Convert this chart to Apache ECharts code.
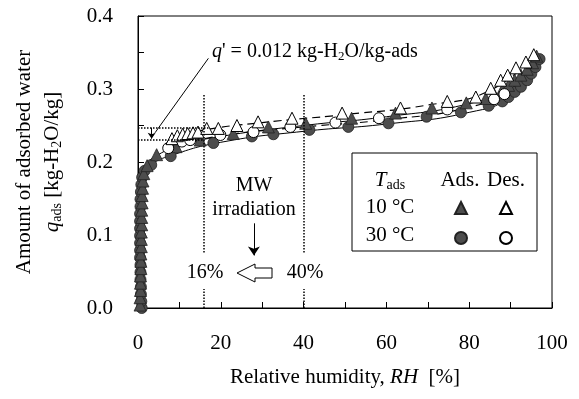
<!DOCTYPE html>
<html>
<head>
<meta charset="utf-8">
<script src="https://cdn.jsdelivr.net/npm/echarts@6/dist/echarts.min.js"></script>
<style>
html,body{margin:0;padding:0;background:#fff;}
#chart{width:579px;height:399px;}
</style>
</head>
<body>
<div id="chart"></div>
<script>
// measured points [RH %, q kg/kg]
var ads10 = [
    [0.5,0.004],[0.5,0.014],[0.6,0.024],[0.6,0.034],[0.6,0.044],[0.7,0.054],[0.7,0.064],
    [0.7,0.074],[0.8,0.084],[0.8,0.094],[0.8,0.104],[0.9,0.114],[0.9,0.124],[0.9,0.134],
    [1.0,0.144],[1.0,0.154],[1.1,0.164],[1.2,0.174],[1.4,0.184],[2.2,0.195],[4.5,0.210],
    [9.2,0.221],[15,0.230],[23,0.239],[31.5,0.248],[40.5,0.253],[51.6,0.260],[62.2,0.267],
    [71,0.274],[79.3,0.281],[84,0.287],[86,0.293],[88,0.299],[89.5,0.305],[91,0.312],
    [92.5,0.319],[94,0.327],[95.3,0.336],[96.3,0.345]
];
var ads30 = [
    [0.9,0.000],[0.8,0.009],[0.7,0.019],[0.7,0.029],[0.6,0.039],[0.6,0.049],[0.6,0.059],
    [0.5,0.069],[0.5,0.079],[0.5,0.089],[0.5,0.099],[0.5,0.109],[0.5,0.119],[0.5,0.129],
    [0.6,0.139],[0.6,0.149],[0.7,0.159],[0.8,0.169],[1.0,0.179],[1.6,0.188],[3.2,0.196],
    [7.9,0.208],[18.2,0.226],[27.5,0.235],[32.7,0.238],[41.4,0.244],[50.8,0.248],[60.5,0.253],
    [69.7,0.262],[78,0.268],[84.7,0.277],[88,0.283],[89.5,0.289],[91,0.296],[92.5,0.303],
    [94,0.312],[95,0.321],[96,0.330],[97,0.341]
];
var des10 = [
    [8.2,0.232],[9.5,0.236],[10.8,0.238],[12,0.239],[13.3,0.240],[14.5,0.241],[16.6,0.246],
    [19.4,0.246],[23.9,0.250],[29,0.255],[37.2,0.260],[49.3,0.267],[63.4,0.274],[74.7,0.283],
    [81.6,0.289],[85.2,0.301],[87.6,0.312],[89.3,0.319],[91.3,0.329],[93.7,0.337],[95.6,0.347]
];
var des30 = [
    [7.3,0.219],[10.6,0.228],[12.6,0.230],[19.9,0.237],[27.9,0.241],[36.8,0.248],[47.7,0.254],
    [58.2,0.260],[74.7,0.272],[86,0.286],[88.5,0.293]
];
// fitted curves
var fitAds10 = [[0.8,0.17],[2,0.195],[4,0.207],[10,0.222],[20,0.235],[40,0.25],[60,0.262],[80,0.28],[90,0.303],[96,0.345]];
var fitAds30 = [[0.6,0.16],[1.5,0.186],[3,0.196],[8,0.209],[20,0.227],[40,0.242],[60,0.252],[80,0.268],[90,0.29],[97,0.34]];
var fitDes10 = [[8,0.232],[15,0.243],[30,0.254],[50,0.265],[70,0.278],[85,0.298],[96,0.348]];
var fitDes30 = [[7,0.22],[20,0.236],[40,0.248],[60,0.258],[80,0.275],[90,0.3],[97,0.34]];

var FONT = '"Liberation Serif", "Times New Roman", serif';
var dark = '#4d4d4d';

function dotted(a, b) {
    return [{coord: a}, {coord: b}];
}

var chart = echarts.init(document.getElementById('chart'));
chart.setOption({
    animation: false,
    textStyle: {fontFamily: FONT, color: '#000'},
    grid: {left: 138, top: 16, right: 27, bottom: 91, show: true, borderColor: '#000', borderWidth: 1},
    xAxis: {
        type: 'value', min: 0, max: 100, interval: 20,
        axisLine: {lineStyle: {color: '#000', width: 1}},
        axisTick: {inside: true, length: 6, lineStyle: {color: '#000'}},
        minorTick: {show: true, splitNumber: 2, length: 6, lineStyle: {color: '#000'}},
        splitLine: {show: false},
        axisLabel: {fontSize: 21, margin: 25, color: '#000', fontFamily: FONT},
        name: 'Relative humidity, {i|RH}  [%]',
        nameLocation: 'middle', nameGap: 59,
        nameTextStyle: {fontSize: 21, color: '#000', fontFamily: FONT,
            rich: {i: {fontSize: 21, fontStyle: 'italic', fontFamily: FONT}}}
    },
    yAxis: {
        type: 'value', min: 0, max: 0.4, interval: 0.1,
        axisLine: {lineStyle: {color: '#000', width: 1}},
        axisTick: {inside: true, length: 6, lineStyle: {color: '#000'}},
        minorTick: {show: true, splitNumber: 2, length: 6, lineStyle: {color: '#000'}},
        splitLine: {show: false},
        axisLabel: {fontSize: 21, margin: 25, color: '#000', fontFamily: FONT,
            formatter: function (v) { return v.toFixed(1); }},
        name: 'Amount of adsorbed water\n{i|q}{s|ads} [kg-H{s|2}O/kg]',
        nameLocation: 'middle', nameGap: 72, nameRotate: 90,
        nameTextStyle: {fontSize: 21, color: '#000', fontFamily: FONT, lineHeight: 28,
            rich: {
                i: {fontSize: 21, fontStyle: 'italic', fontFamily: FONT},
                s: {fontSize: 14, fontFamily: FONT, padding: [10, 0, 0, 0]}
            }}
    },
    legend: [
        {data: ['10°C Ads.', '30°C Ads.'], orient: 'vertical', left: 449, top: 196,
         itemWidth: 12, itemHeight: 12, itemGap: 16, selectedMode: false,
         formatter: function () { return ''; }},
        {data: ['10°C Des.', '30°C Des.'], orient: 'vertical', left: 494, top: 196,
         itemWidth: 12, itemHeight: 12, itemGap: 16, selectedMode: false,
         formatter: function () { return ''; }}
    ],
    graphic: [
        {type: 'rect', shape: {x: 352, y: 153, width: 185, height: 98},
         style: {fill: '#fff', stroke: '#000', lineWidth: 1}, z: 1},
        {type: 'text', x: 390, y: 180, z: 2,
         style: {text: '{i|T}{s|ads}', align: 'center', verticalAlign: 'middle', font: '21px ' + FONT,
            rich: {i: {fontStyle: 'italic', fontSize: 21, fontFamily: FONT},
                   s: {fontSize: 14, fontFamily: FONT, padding: [10, 0, 0, 0]}}}},
        {type: 'text', x: 460, y: 180, z: 2,
         style: {text: 'Ads.', align: 'center', verticalAlign: 'middle', font: '21px ' + FONT}},
        {type: 'text', x: 506, y: 180, z: 2,
         style: {text: 'Des.', align: 'center', verticalAlign: 'middle', font: '21px ' + FONT}},
        {type: 'text', x: 390, y: 207, z: 2,
         style: {text: '10 °C', align: 'center', verticalAlign: 'middle', font: '21px ' + FONT}},
        {type: 'text', x: 390, y: 235, z: 2,
         style: {text: '30 °C', align: 'center', verticalAlign: 'middle', font: '21px ' + FONT}},
        {type: 'text', x: 212, y: 52, z: 5,
         style: {text: "{i|q}' = 0.012 kg-H{s|2}O/kg-ads", verticalAlign: 'middle', font: '20px ' + FONT,
            rich: {i: {fontStyle: 'italic', fontSize: 20, fontFamily: FONT},
                   s: {fontSize: 13, fontFamily: FONT, padding: [10, 0, 0, 0]}}}},
        {type: 'text', x: 254, y: 186, z: 5,
         style: {text: 'MW', align: 'center', verticalAlign: 'middle', font: '20px ' + FONT}},
        {type: 'text', x: 254, y: 210, z: 5,
         style: {text: 'irradiation', align: 'center', verticalAlign: 'middle', font: '20px ' + FONT}},
        {type: 'text', x: 205, y: 273, z: 5,
         style: {text: '16%', align: 'center', verticalAlign: 'middle', font: '20px ' + FONT}},
        {type: 'text', x: 305, y: 273, z: 5,
         style: {text: '40%', align: 'center', verticalAlign: 'middle', font: '20px ' + FONT}},
        {type: 'polygon', z: 5,
         shape: {points: [[237,273],[255,264],[255,268],[272,268],[272,278],[255,278],[255,282]]},
         style: {fill: '#fff', stroke: '#000', lineWidth: 1}}
    ],
    series: [
        {type: 'line', name: 'fit1', data: fitAds10, smooth: true, symbol: 'none', silent: true,
         lineStyle: {color: '#000', width: 1}, z: 2},
        {type: 'line', name: 'fit2', data: fitAds30, smooth: true, symbol: 'none', silent: true,
         lineStyle: {color: '#000', width: 1}, z: 2},
        {type: 'line', name: 'fit3', data: fitDes10, smooth: true, symbol: 'none', silent: true,
         lineStyle: {color: '#000', width: 1.2, type: [8, 5]}, z: 2},
        {type: 'line', name: 'fit4', data: fitDes30, smooth: true, symbol: 'none', silent: true,
         lineStyle: {color: '#000', width: 1.2, type: [8, 5]}, z: 2},
        {type: 'scatter', name: '30°C Ads.', data: ads30, symbol: 'circle', symbolSize: 11,
         itemStyle: {color: dark, borderColor: '#222', borderWidth: 0.8, opacity: 1}, z: 3},
        {type: 'scatter', name: '10°C Ads.', data: ads10, symbol: 'triangle', symbolSize: 12,
         itemStyle: {color: dark, borderColor: '#222', borderWidth: 0.8, opacity: 1}, z: 3},
        {type: 'scatter', name: '30°C Des.', data: des30, symbol: 'circle', symbolSize: 11,
         itemStyle: {color: '#fff', borderColor: '#000', borderWidth: 1, opacity: 1}, z: 4},
        {type: 'scatter', name: '10°C Des.', data: des10, symbol: 'triangle', symbolSize: 12,
         itemStyle: {color: '#fff', borderColor: '#000', borderWidth: 1, opacity: 1}, z: 4},
        {type: 'line', name: 'notes', data: [], silent: true, z: 5,
         markLine: {
            silent: true, symbol: 'none', label: {show: false},
            lineStyle: {color: '#000', width: 1.5, type: 'dotted'},
            data: [
                dotted([16, 0], [16, 0.026]),
                dotted([16, 0.076], [16, 0.293]),
                dotted([40, 0], [40, 0.026]),
                dotted([40, 0.076], [40, 0.293]),
                dotted([0, 0.247], [17, 0.247]),
                dotted([0, 0.231], [16, 0.231])
            ]
         }},
        {type: 'line', name: 'arrows', data: [], silent: true, z: 5,
         markLine: {
            silent: true, symbol: ['none', 'arrow'], label: {show: false},
            lineStyle: {color: '#000', width: 1, type: 'solid'},
            data: [
                [{coord: [3.3, 0.247], symbolSize: 0}, {coord: [3.3, 0.232], symbolSize: 6}],
                [{coord: [28, 0.116], symbolSize: 0}, {coord: [28, 0.072], symbolSize: 9}]
            ]
         }},
        {type: 'line', name: 'leader', data: [], silent: true, z: 5,
         markLine: {
            silent: true, symbol: 'none', label: {show: false},
            lineStyle: {color: '#000', width: 1, type: 'solid'},
            data: [dotted([17, 0.342], [4.1, 0.240])]
         }}
    ]
});
</script>
</body>
</html>
